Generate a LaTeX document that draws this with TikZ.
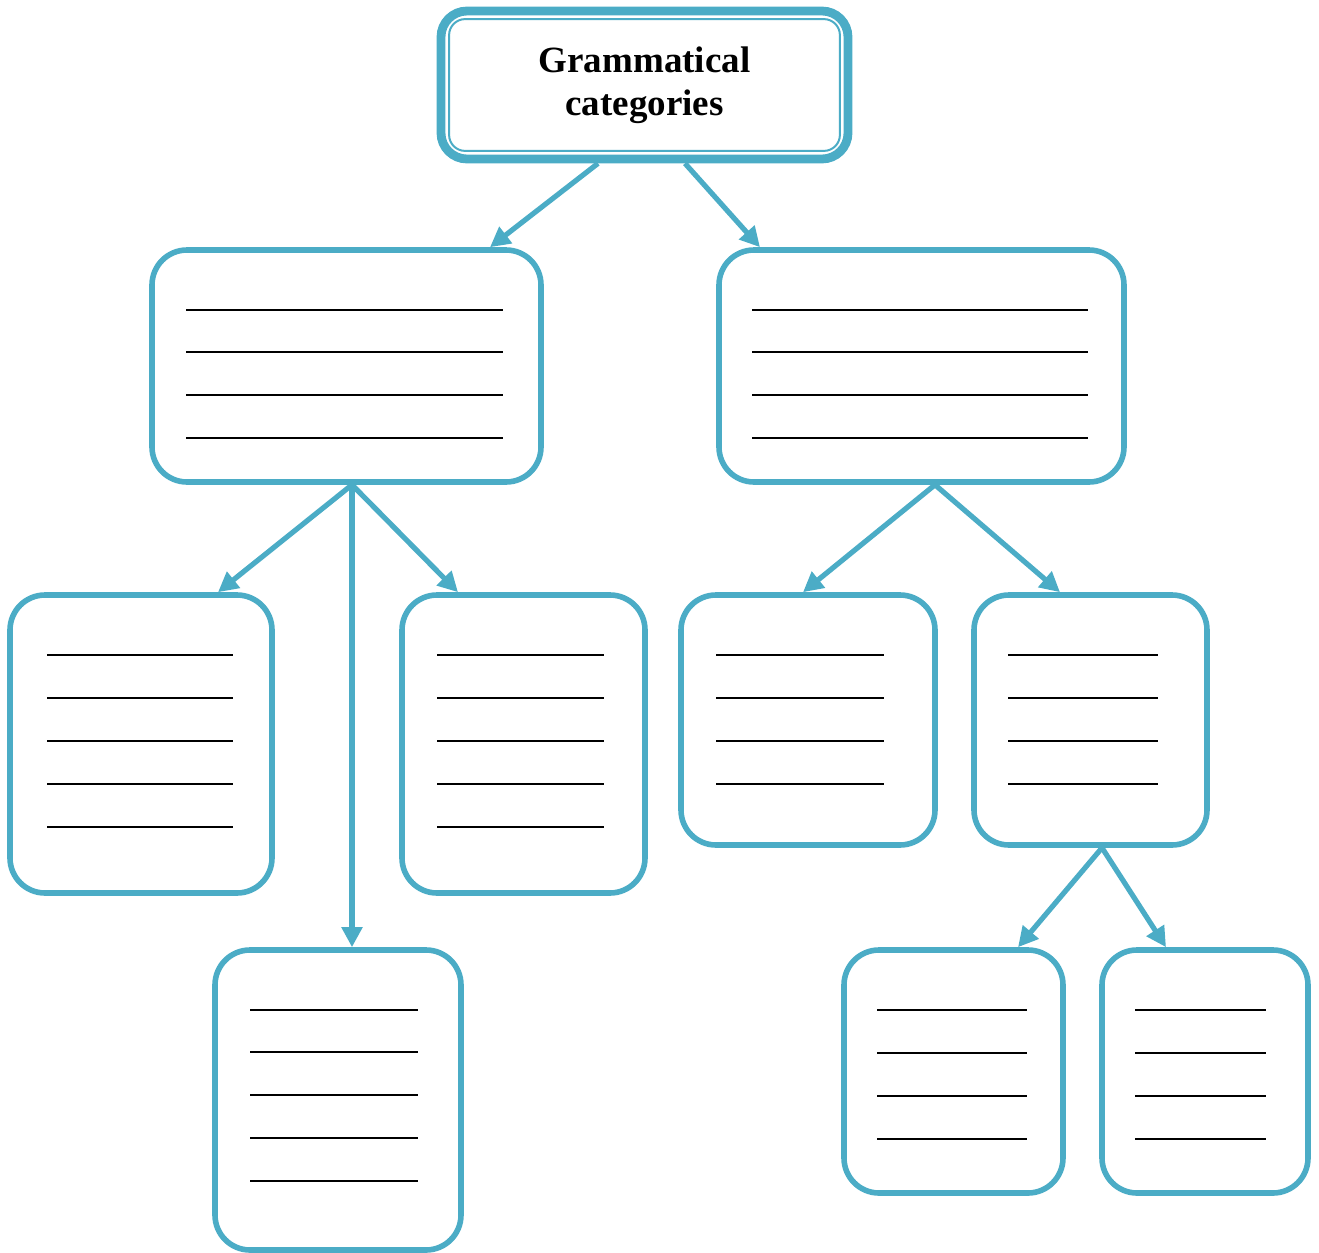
\documentclass[tikz,border=0pt]{standalone}
\usepackage{fontspec}
\setmainfont{Liberation Serif}
\usetikzlibrary{calc,arrows.meta}
\definecolor{acc}{HTML}{4BACC6}
\begin{document}
\begin{tikzpicture}[x=0.5pt,y=-0.5pt,
  box/.style={draw=acc, line width=2.8pt, rounded corners=17.5pt, fill=white, inner sep=0pt},
  topbox/.style={draw=acc, line width=4.4pt, rounded corners=13pt, fill=white, inner sep=0pt,
    minimum width=203.5pt, minimum height=74pt, align=center, font=\bfseries\fontsize{18.5}{21.5}\selectfont},
  conn/.style={draw=acc, line width=2.6pt, -{Triangle[length=10pt,width=10pt]}},
  blank/.style={draw=black, line width=0.75pt}]
\useasboundingbox (0,0) rectangle (1319,1253);

% boxes
\node[topbox] (top) at (644.5,85) {Grammatical\\categories};
\draw[acc, line width=1pt, rounded corners=8pt] ($(top.north west)+(12.5,12.5)$) rectangle ($(top.south east)+(-12.5,-12.5)$);

\node[box, minimum width=194.5pt, minimum height=116pt] (L1) at (346.5,366) {};
\node[box, minimum width=202.5pt, minimum height=116pt] (R1) at (921.5,366) {};
\node[box, minimum width=131pt, minimum height=149pt] (L2a) at (141,744) {};
\node[box, minimum width=123pt, minimum height=150pt] (L2b) at (338,1100) {};
\node[box, minimum width=121.5pt, minimum height=149pt] (L2c) at (523.5,744) {};
\node[box, minimum width=127pt, minimum height=125pt] (R2a) at (808,720) {};
\node[box, minimum width=116.5pt, minimum height=125pt] (R2b) at (1090.5,720) {};
\node[box, minimum width=109.5pt, minimum height=121.5pt] (R3a) at (953.5,1071.5) {};
\node[box, minimum width=103pt, minimum height=121.5pt] (R3b) at (1205,1071.5) {};

% connectors
\draw[conn] ($(top.south)+(-46.5,0)$) -- ($(L1.north)+(143.5,0)$);
\draw[conn] ($(top.south)+(40.5,0)$) -- ($(R1.north)+(-161.5,0)$);
\draw[conn] ($(L1.south)+(5.5,0)$) -- ($(L2a.north)+(77,0)$);
\draw[conn] ($(L1.south)+(5.5,0)$) -- ($(L2b.north)+(14,0)$);
\draw[conn] ($(L1.south)+(5.5,0)$) -- ($(L2c.north)+(-65.5,0)$);
\draw[conn] ($(R1.south)+(13.5,0)$) -- ($(R2a.north)+(-5,0)$);
\draw[conn] ($(R1.south)+(13.5,0)$) -- ($(R2b.north)+(-30.5,0)$);
\draw[conn] ($(R2b.south)+(11.5,0)$) -- ($(R3a.north)+(64.5,0)$);
\draw[conn] ($(R2b.south)+(11.5,0)$) -- ($(R3b.north)+(-39,0)$);

% blank lines
\foreach \y in {310,352,395,438} {
  \draw[blank] (186,\y) -- (503,\y);
  \draw[blank] (752,\y) -- (1088,\y);
}
\foreach \y in {655,698,741,784,827} {
  \draw[blank] (47,\y) -- (233,\y);
  \draw[blank] (437,\y) -- (604,\y);
}
\foreach \y in {1010,1052,1095,1138,1181} {
  \draw[blank] (250,\y) -- (418,\y);
}
\foreach \y in {655,698,741,784} {
  \draw[blank] (716,\y) -- (884,\y);
  \draw[blank] (1008,\y) -- (1158,\y);
}
\foreach \y in {1010,1053,1096,1139} {
  \draw[blank] (877,\y) -- (1027,\y);
  \draw[blank] (1135,\y) -- (1266,\y);
}
\end{tikzpicture}
\end{document}
